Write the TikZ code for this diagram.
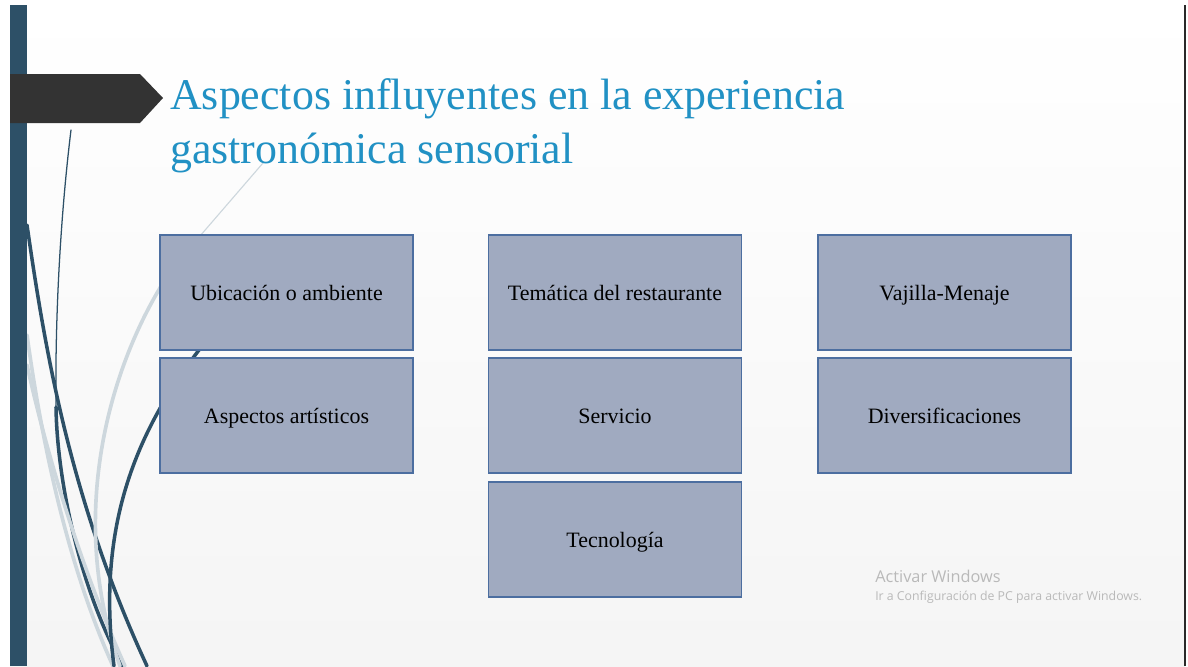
\documentclass[tikz,border=0pt]{standalone}
\usepackage{fontspec}
\setmainfont{Liberation Serif}
\newfontfamily\wmfont{Open Sans}
\definecolor{barc}{RGB}{45,80,103}
\definecolor{arrowc}{RGB}{51,51,51}
\definecolor{titlec}{RGB}{33,145,196}
\definecolor{boxfill}{RGB}{160,170,192}
\definecolor{boxline}{RGB}{76,110,160}
\definecolor{lightc}{RGB}{205,215,221}
\definecolor{wmc}{RGB}{185,185,185}
\tikzset{
  aspbox/.style={draw=boxline, line width=0.8pt, fill=boxfill, minimum width=6.325cm, minimum height=2.875cm, inner sep=0pt, text height=15pt, text depth=3pt, font=\fontsize{15.6}{18}\selectfont, text=black},
  titletext/.style={inner sep=0pt, anchor=base west, text=titlec, font=\fontsize{31.2}{38}\selectfont},
  darkcurve/.style={draw=barc, line width=2.5pt, line cap=round},
  thindark/.style={draw=barc, line width=0.9pt, line cap=round},
  lightcurve/.style={draw=lightc, line width=2.6pt, line cap=round},
  thinlight/.style={draw=lightc, line width=0.8pt},
  wm/.style={inner sep=0pt, anchor=base west, text=wmc}
}
\begin{document}
\begin{tikzpicture}[x=0.025cm,y=-0.025cm]
\useasboundingbox (0,0) rectangle (1188,666);
\fill[white] (0,0) rectangle (1188,666);
\shade[top color=white, bottom color=black!4] (10,5) rectangle (1185,666);
% curves
\coordinate (d1a) at (27,225);
\coordinate (d1b) at (147,666);
\draw[darkcurve] (d1a) .. controls (45,350) and (70,500) .. (d1b);
\coordinate (d2a) at (71,130);
\coordinate (d2m) at (56,407);
\coordinate (d2b) at (123,666);
\draw[thindark] (d2a) .. controls (60,220) and (55,320) .. (d2m);
\draw[darkcurve] (d2m) .. controls (57,480) and (80,590) .. (d2b);
\coordinate (l2a) at (27,335);
\coordinate (l2b) at (113,666);
\draw[lightcurve] (l2a) .. controls (40,430) and (65,560) .. (l2b);
\coordinate (l3a) at (27,365);
\coordinate (l3b) at (125,666);
\draw[lightcurve] (l3a) .. controls (48,460) and (82,570) .. (l3b);
\coordinate (l1a) at (263,163);
\coordinate (l1m) at (200,236);
\coordinate (l1c) at (190,245);
\coordinate (l1b) at (120,666);
\draw[thinlight] (l1a) -- (l1m);
\draw[lightcurve] (l1c) .. controls (120,330) and (60,500) .. (l1b);
\coordinate (d3a) at (215,330);
\coordinate (d3b) at (114,666);
\draw[darkcurve] (d3a) .. controls (140,420) and (95,520) .. (d3b);
% left bar and edge
\fill[barc] (10,5) rectangle (27,666);
\draw[arrowc!80!black, line width=1.4pt] (1185,5) -- (1185,666);
\fill[arrowc] (10,74) -- (140,74) -- (163,98) -- (140,123) -- (10,123) -- cycle;
% title
\node[titletext] (t1) at (170,109) {Aspectos influyentes en la experiencia};
\node[titletext] (t2) at (170,163) {gastronómica sensorial};
% boxes
\node[aspbox] (b1) at (286.5,292.5) {Ubicación o ambiente};
\node[aspbox] (b2) at (286.5,415.5) {Aspectos artísticos};
\node[aspbox] (b3) at (615,292.5) {Temática del restaurante};
\node[aspbox] (b4) at (615,415.5) {Servicio};
\node[aspbox] (b5) at (615,539.5) {Tecnología};
\node[aspbox] (b6) at (944.5,292.5) {Vajilla-Menaje};
\node[aspbox] (b7) at (944.5,415.5) {Diversificaciones};
% watermark
\node[wm, font=\wmfont\fontsize{11.6}{13}\selectfont] (w1) at (875,582) {Activar Windows};
\node[wm, font=\wmfont\fontsize{8.75}{10}\selectfont] (w2) at (875,600) {Ir a Configuración de PC para activar Windows.};
\end{tikzpicture}
\end{document}
